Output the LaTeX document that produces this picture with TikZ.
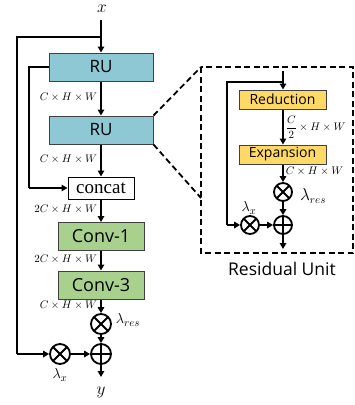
\documentclass[tikz,border=0pt]{standalone}
\usepackage{fontspec}
\usepackage{amsmath}
\setsansfont{Open Sans}
\newfontfamily\serifface{Liberation Serif}
\usetikzlibrary{arrows.meta}

\definecolor{rublue}{HTML}{8EC8D4}
\definecolor{convgreen}{HTML}{A9D18E}
\definecolor{unityellow}{HTML}{FFD966}

\tikzset{
  flow/.style={line width=1.8pt, -{Triangle[length=6pt,width=6.5pt]}},
  wire/.style={line width=1.8pt},
  blockbox/.style={draw=black!75, line width=1pt, inner sep=0pt, font=\sffamily},
  rubox/.style={blockbox, fill=rublue, minimum width=104pt, minimum height=28pt, font=\sffamily\fontsize{17}{17}\selectfont},
  convbox/.style={blockbox, fill=convgreen, minimum width=86pt, minimum height=28pt, font=\sffamily\fontsize{18}{18}\selectfont},
  unitbox/.style={blockbox, fill=unityellow, minimum width=87pt, minimum height=19pt, font=\sffamily\fontsize{14}{14}\selectfont},
  otimes/.style={circle, draw, line width=1.8pt, inner sep=0pt, minimum size=2*#1,
    path picture={\draw[line width=1.8pt] (path picture bounding box.center)
      +(45:#1) -- +(225:#1) +(135:#1) -- +(-45:#1);}},
  oplus/.style={circle, draw, line width=1.8pt, inner sep=0pt, minimum size=2*#1,
    path picture={\draw[line width=1.8pt] (path picture bounding box.center)
      +(0:#1) -- +(180:#1) +(90:#1) -- +(-90:#1);}},
  dimlabel/.style={font=\fontsize{10.5}{10.5}\selectfont, inner sep=0pt},
  mathlabel/.style={font=\fontsize{#1}{#1}\selectfont, inner sep=1pt},
  zoomline/.style={line width=1.8pt, dash pattern=on 6pt off 3.5pt},
}

\begin{document}
\begin{tikzpicture}[x=1pt, y=-1pt]
\useasboundingbox (0,0) rectangle (355,405);

% ---------------- main branch ----------------
\node[mathlabel=16] (xin) at (102,9) {$x$};
\coordinate (xtop) at (101,20);
\coordinate (split) at (101,37);
\node[rubox] (ru1) at (101,67) {RU};
\node[rubox] (ru2) at (101,130) {RU};
\node[draw, line width=1pt, fill=white, minimum width=66pt, minimum height=22pt, inner sep=0pt,
      font=\serifface\fontsize{19}{19}\selectfont] (concat) at (101,188) {concat};
\node[convbox] (conv1) at (101,236.5) {Conv-1};
\node[convbox] (conv3) at (101,285) {Conv-3};
\node[otimes=10pt] (mres) at (101,324) {};
\node[oplus=10pt] (madd) at (101,354) {};
\node[otimes=10pt] (mx) at (60,354) {};
\coordinate (yend) at (101,377);
\node[mathlabel=16] (yout) at (101,392) {$y$};

\coordinate (outerA) at (17,37);
\coordinate (outerB) at (17,354);
\coordinate (innerA) at (29,67);
\coordinate (innerB) at (29,188);

\draw[wire] (xtop) -- (split);
\draw[flow] (split) -- (ru1);
\draw[flow] (ru1) -- (ru2) node[dimlabel, pos=0.45, left=3pt] {$C\times H\times W$};
\draw[flow] (ru2) -- (concat) node[dimlabel, pos=0.45, left=3pt] {$C\times H\times W$};
\draw[flow] (concat) -- (conv1) node[dimlabel, pos=0.45, left=3pt] {$2C\times H\times W$};
\draw[flow] (conv1) -- (conv3) node[dimlabel, pos=0.4, left=3pt] {$2C\times H\times W$};
\draw[flow] (conv3) -- (mres) node[dimlabel, pos=0.45, left=3pt] {$C\times H\times W$};
\draw[flow] (mres) -- (madd);
\draw[flow] (madd) -- (yend);
\draw[wire] (split) -- (outerA) -- (outerB);
\draw[flow] (outerB) -- (mx);
\draw[flow] (mx) -- (madd);
\draw[wire] (ru1.west) -- (innerA) -- (innerB);
\draw[flow] (innerB) -- (concat);

\node[mathlabel=15] (mreslab) at (128,320) {$\lambda_{res}$};
\node[mathlabel=15] (mxlab) at (60,375) {$\lambda_x$};

% ---------------- residual unit detail ----------------
\coordinate (boxTL) at (201,67);
\coordinate (boxBR) at (353,253);
\coordinate (boxL) at (201,198);
\draw[zoomline] (ru2.north east) -- (boxTL);
\draw[zoomline] (ru2.south east) -- (boxL);
\draw[zoomline] (boxTL) rectangle (boxBR);

\coordinate (rtop) at (283,71);
\coordinate (rsplit) at (283,82);
\node[unitbox] (red) at (282.5,99.5) {Reduction};
\node[unitbox] (exp) at (282.5,154.5) {Expansion};
\node[otimes=9pt] (rres) at (283,192) {};
\node[oplus=9pt] (radd) at (283,225) {};
\node[otimes=9pt] (rx) at (250,225) {};
\coordinate (rend) at (283,249);
\coordinate (rloopA) at (227,82);
\coordinate (rloopB) at (227,225);

\draw[wire] (rtop) -- (rsplit);
\draw[flow] (rsplit) -- (red.north -| rsplit);
\draw[flow] (red.south -| rsplit) -- (exp.north -| rsplit)
  node[dimlabel, pos=0.5, right=2pt] {$\dfrac{C}{2}\times H\times W$};
\draw[flow] (exp.south -| rsplit) -- (rres)
  node[dimlabel, pos=0.4, right=2pt] {$C\times H\times W$};
\draw[flow] (rres) -- (radd);
\draw[flow] (radd) -- (rend);
\draw[wire] (rsplit) -- (rloopA) -- (rloopB);
\draw[flow] (rloopB) -- (rx);
\draw[flow] (rx) -- (radd);

\node[mathlabel=16] (rreslab) at (313,196) {$\lambda_{res}$};
\node[mathlabel=15] (rxlab) at (249,208) {$\lambda_x$};
\node[font=\sffamily\fontsize{17.5}{17.5}\selectfont, inner sep=0pt] (unitname) at (282,269) {Residual Unit};
\end{tikzpicture}
\end{document}
